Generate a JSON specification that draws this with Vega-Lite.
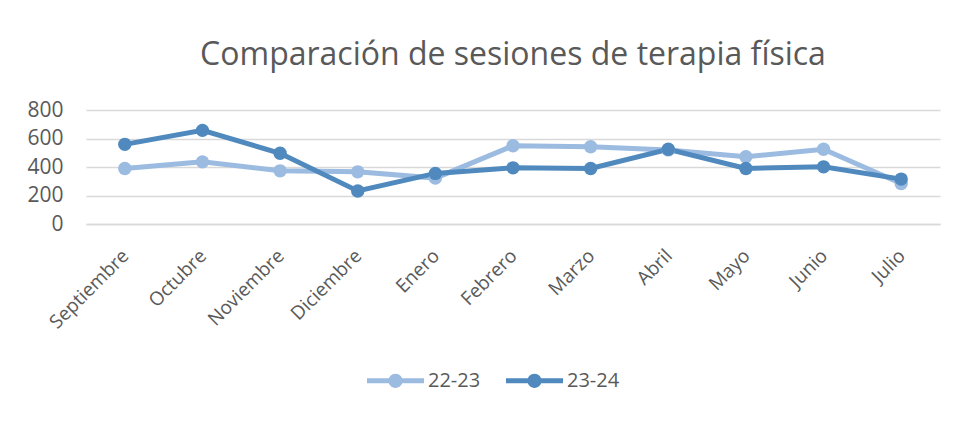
{
  "$schema": "https://vega.github.io/schema/vega-lite/v6.json",
  "width": 854,
  "height": 114,
  "autosize": {"type": "none"},
  "padding": {"left": 86, "top": 110, "right": 17, "bottom": 198},
  "background": "white",
  "title": {
    "text": "Comparación de sesiones de terapia física",
    "font": "Open Sans",
    "fontSize": 32,
    "fontWeight": "normal",
    "color": "#595959",
    "anchor": "middle",
    "offset": 27
  },
  "config": {
    "view": {"stroke": null},
    "font": "Open Sans"
  },
  "data": {
    "values": [
      {"mes": "Septiembre", "temporada": "22-23", "sesiones": 390},
      {"mes": "Octubre", "temporada": "22-23", "sesiones": 436},
      {"mes": "Noviembre", "temporada": "22-23", "sesiones": 373},
      {"mes": "Diciembre", "temporada": "22-23", "sesiones": 366},
      {"mes": "Enero", "temporada": "22-23", "sesiones": 322},
      {"mes": "Febrero", "temporada": "22-23", "sesiones": 549},
      {"mes": "Marzo", "temporada": "22-23", "sesiones": 542},
      {"mes": "Abril", "temporada": "22-23", "sesiones": 520},
      {"mes": "Mayo", "temporada": "22-23", "sesiones": 472},
      {"mes": "Junio", "temporada": "22-23", "sesiones": 524},
      {"mes": "Julio", "temporada": "22-23", "sesiones": 284},
      {"mes": "Septiembre", "temporada": "23-24", "sesiones": 559},
      {"mes": "Octubre", "temporada": "23-24", "sesiones": 657},
      {"mes": "Noviembre", "temporada": "23-24", "sesiones": 496},
      {"mes": "Diciembre", "temporada": "23-24", "sesiones": 232},
      {"mes": "Enero", "temporada": "23-24", "sesiones": 355},
      {"mes": "Febrero", "temporada": "23-24", "sesiones": 394},
      {"mes": "Marzo", "temporada": "23-24", "sesiones": 390},
      {"mes": "Abril", "temporada": "23-24", "sesiones": 524},
      {"mes": "Mayo", "temporada": "23-24", "sesiones": 390},
      {"mes": "Junio", "temporada": "23-24", "sesiones": 401},
      {"mes": "Julio", "temporada": "23-24", "sesiones": 315}
    ]
  },
  "encoding": {
    "x": {
      "field": "mes",
      "type": "ordinal",
      "sort": null,
      "scale": {"type": "point", "padding": 0.5},
      "axis": {
        "title": null,
        "labelAngle": -45,
        "labelFontSize": 19,
        "labelColor": "#595959",
        "labelFont": "Open Sans",
        "ticks": false,
        "domainColor": "#D9D9D9",
        "domainWidth": 1.5,
        "labelPadding": 22,
        "labelOffset": -6,
        "grid": false
      }
    },
    "y": {
      "field": "sesiones",
      "type": "quantitative",
      "scale": {"domain": [0, 800], "nice": false},
      "axis": {
        "title": null,
        "values": [0, 200, 400, 600, 800],
        "labelFontSize": 21,
        "labelColor": "#595959",
        "labelFont": "Open Sans",
        "labelPadding": 23,
        "ticks": false,
        "domain": false,
        "gridColor": "#D9D9D9",
        "gridWidth": 1.5
      }
    },
    "color": {
      "field": "temporada",
      "type": "nominal",
      "scale": {"domain": ["22-23", "23-24"], "range": ["#9BBBE1", "#4F89BD"]},
      "legend": {
        "title": null,
        "orient": "none",
        "direction": "horizontal",
        "legendX": 281,
        "legendY": 242,
        "padding": 0,
        "labelFontSize": 20,
        "labelColor": "#595959",
        "labelFont": "Open Sans",
        "labelOffset": 4,
        "columnPadding": 25,
        "symbolType": "M-1,-0.09L1,-0.09L1,0.09L-1,0.09Z M0.25,0A0.25,0.25,0,1,1,-0.25,0A0.25,0.25,0,1,1,0.25,0Z",
        "symbolSize": 3249,
        "symbolStrokeWidth": 0,
        "symbolOpacity": 1,
        "encode": {
          "symbols": {
            "update": {
              "fill": {"scale": "color", "field": "value"},
              "stroke": {"value": "transparent"},
              "strokeWidth": {"value": 0}
            }
          }
        }
      }
    }
  },
  "layer": [
    {"mark": {"type": "line", "strokeWidth": 5}},
    {"mark": {"type": "point", "filled": true, "opacity": 1, "size": 180}}
  ]
}
